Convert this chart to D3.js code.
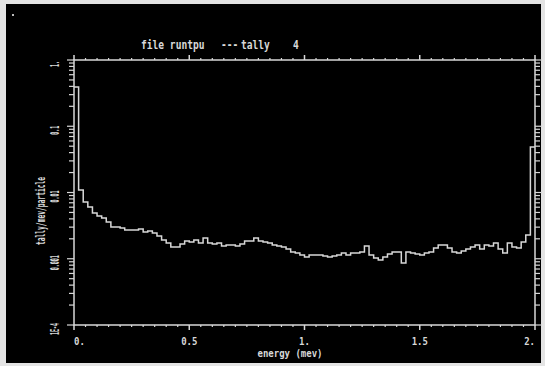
<!DOCTYPE html>
<html>
<head>
<meta charset="utf-8">
<script src="https://cdn.jsdelivr.net/npm/d3@7"></script>
<style>
  body { margin: 0; background: #e4e4e4; }
  svg { display: block; }
  text { font-family: "DejaVu Sans Mono", monospace; font-weight: bold; fill: #d8d8d8; }
</style>
</head>
<body>
<div id="chart"></div>
<script>
// tally 4 histogram, 0.02 mev bins from 0 to 2 mev
const binWidth = 0.02;
const tallyValues = [
  0.391, 0.0109, 0.00719, 0.00604, 0.00491, 0.00442, 0.00412, 0.00359, 0.00301, 0.00301,
  0.00291, 0.00272, 0.00272, 0.00272, 0.00281, 0.00253, 0.00262, 0.00245, 0.00220, 0.00192,
  0.00173, 0.00150, 0.00150, 0.00167, 0.00185, 0.00179, 0.00192, 0.00173, 0.00206, 0.00173,
  0.00167, 0.00173, 0.00156, 0.00161, 0.00161, 0.00156, 0.00167, 0.00185, 0.00185, 0.00206,
  0.00185, 0.00179, 0.00173, 0.00161, 0.00156, 0.00150, 0.00140, 0.00126, 0.00122, 0.00114,
  0.00106, 0.00114, 0.00114, 0.00114, 0.00110, 0.00106, 0.00110, 0.00114, 0.00122, 0.00114,
  0.00122, 0.00122, 0.00126, 0.00156, 0.00114, 0.00103, 0.00096, 0.00106, 0.00118, 0.00126,
  0.00126, 0.00086, 0.00126, 0.00122, 0.00118, 0.00114, 0.00122, 0.00126, 0.00145, 0.00161,
  0.00161, 0.00145, 0.00126, 0.00122, 0.00131, 0.00140, 0.00150, 0.00161, 0.00140, 0.00161,
  0.00156, 0.00173, 0.00140, 0.00122, 0.00173, 0.00150, 0.00145, 0.00179, 0.00228, 0.0486
];
const xTickValues = [0, 0.5, 1, 1.5, 2];
const xTickLabels = ["0.", "0.5", "1.", "1.5", "2."];
const yTickValues = [1, 0.1, 0.01, 0.001, 0.0001];
const yTickLabels = ["1.", "0.1", "0.01", "0.001", "1E-4"];

const W = 545, H = 366;
const margin = { top: 60, right: 10, bottom: 41, left: 74 };
const ink = "#d8d8d8";

const svg = d3.select("#chart").append("svg")
  .attr("width", W)
  .attr("height", H);

// black plotting screen inside the light frame
svg.append("rect")
  .attr("x", 6).attr("y", 4)
  .attr("width", 535).attr("height", 359)
  .attr("fill", "#000");

svg.append("rect")
  .attr("x", 12).attr("y", 14)
  .attr("width", 2).attr("height", 2)
  .attr("fill", "#bbb");

const x = d3.scaleLinear().domain([0, 2]).range([margin.left, W - margin.right]);
const y = d3.scaleLog().domain([1e-4, 1]).range([H - margin.bottom, margin.top]);

const x0 = x.range()[0], x1 = x.range()[1];
const y0 = y.range()[0], y1 = y.range()[1];

// frame
svg.append("rect")
  .attr("x", x0).attr("y", y1)
  .attr("width", x1 - x0).attr("height", y0 - y1)
  .attr("fill", "none")
  .attr("stroke", ink)
  .attr("stroke-width", 1.5);

// x ticks, top and bottom, pointing outward
const xMinor = d3.range(0, 2.0001, 0.05);
const g = svg.append("g").attr("stroke", ink);
xMinor.forEach(v => {
  const major = xTickValues.some(t => Math.abs(t - v) < 1e-6);
  const len = major ? 5 : 2;
  g.append("line")
    .attr("x1", x(v)).attr("x2", x(v))
    .attr("y1", y0).attr("y2", y0 + len)
    .attr("stroke-width", major ? 1.5 : 1.2);
  g.append("line")
    .attr("x1", x(v)).attr("x2", x(v))
    .attr("y1", y1).attr("y2", y1 - len)
    .attr("stroke-width", major ? 1.5 : 1.2);
});

// y ticks on both sides: decades plus 2..9
const yMinor = [];
[1e-4, 1e-3, 1e-2, 1e-1].forEach(d => {
  for (let k = 1; k <= 9; k++) yMinor.push(d * k);
});
yMinor.push(1);
yMinor.forEach(v => {
  const major = yTickValues.some(t => Math.abs(Math.log10(t) - Math.log10(v)) < 1e-6);
  const len = major ? 7 : 5;
  g.append("line")
    .attr("x1", x0 - len).attr("x2", x0)
    .attr("y1", y(v)).attr("y2", y(v))
    .attr("stroke-width", 1.2);
  g.append("line")
    .attr("x1", x1).attr("x2", x1 + len)
    .attr("y1", y(v)).attr("y2", y(v))
    .attr("stroke-width", 1.2);
});

// histogram
const pts = tallyValues.map((v, i) => [i * binWidth, v]);
pts.push([tallyValues.length * binWidth, tallyValues[tallyValues.length - 1]]);
const line = d3.line()
  .x(d => x(d[0]))
  .y(d => y(d[1]))
  .curve(d3.curveStepAfter);
svg.append("path")
  .datum(pts)
  .attr("d", line)
  .attr("fill", "none")
  .attr("stroke", ink)
  .attr("stroke-width", 1.5);

// labels (old plotter font: narrow and tall)
svg.selectAll(".xl")
  .data(xTickValues)
  .enter().append("text")
  .attr("class", "xl")
  .attr("transform", d => `translate(${x(d)},345) scale(1,1.2)`)
  .attr("text-anchor", (d, i) => i === 0 ? "start" : (i === xTickValues.length - 1 ? "end" : "middle"))
  .attr("font-size", 9)
  .text((d, i) => xTickLabels[i]);

// rotated labels are squeezed along the baseline
svg.selectAll(".yl")
  .data(yTickValues)
  .enter().append("text")
  .attr("class", "yl")
  .attr("transform", d => `translate(59,${y(d) + 4}) rotate(-90) scale(0.55,1.35)`)
  .attr("text-anchor", "middle")
  .attr("font-size", 9)
  .text((d, i) => yTickLabels[i]);

svg.append("text")
  .attr("transform", "translate(290,357) scale(1,1.2)")
  .attr("text-anchor", "middle")
  .attr("font-size", 9)
  .text("energy (mev)");

svg.append("text")
  .attr("transform", "translate(45,211) rotate(-90) scale(0.7,1.4)")
  .attr("text-anchor", "middle")
  .attr("font-size", 9)
  .text("tally/mev/particle");

const titleParts = [[141, "file runtpu"], [221, "---"], [241, "tally"], [293, "4"]];
titleParts.forEach(([tx, s]) => {
  svg.append("text")
    .attr("transform", `translate(${tx},49) scale(1,1.2)`)
    .attr("font-size", 9.6)
    .text(s);
});
</script>
</body>
</html>
